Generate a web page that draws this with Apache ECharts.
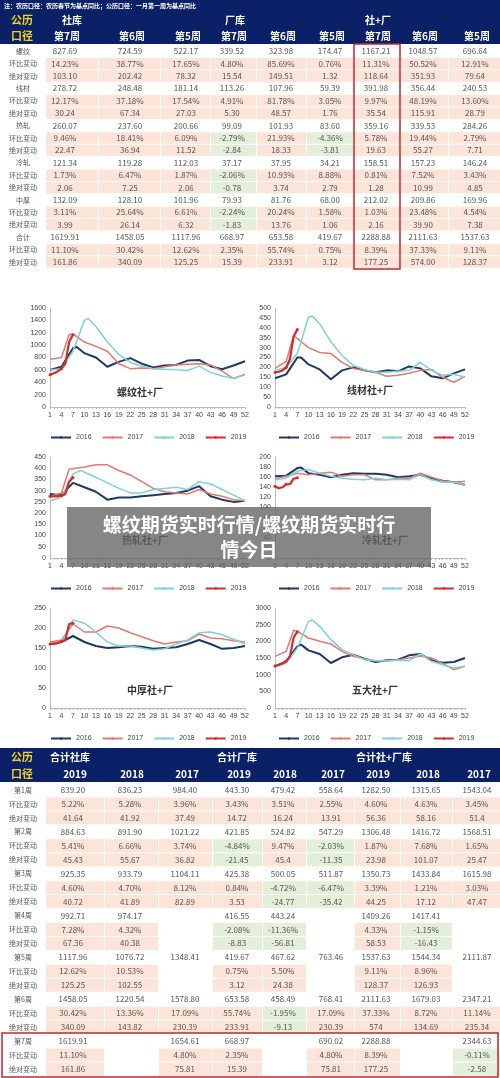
<!DOCTYPE html>
<html><head><meta charset="utf-8">
<script src="https://cdn.jsdelivr.net/npm/echarts@6/dist/echarts.min.js"></script>
<style>html,body{margin:0;padding:0;background:#fff}#c{width:500px;height:1078px}</style>
</head><body><div id="c"></div>
<script>
// ---------- top table data ----------
const topNote = '注：农历口径：农历春节为基点同比；公历口径：一月第一周为基点同比';
const topGroups = ['社库', '厂库', '社+厂'];
const topWeeks = ['第7周','第6周','第5周','第7周','第6周','第5周','第7周','第6周','第5周'];
const topLabels = ['螺纹','环比变动','绝对变动','线材','环比变动','绝对变动','热轧','环比变动','绝对变动','冷轧','环比变动','绝对变动','中厚','环比变动','绝对变动','合计','环比变动','绝对变动'];
const topRows = [
 ['827.69','724.59','522.17','339.52','323.98','174.47','1167.21','1048.57','696.64'],
 ['14.23%','38.77%','17.65%','4.80%','85.69%','0.76%','11.31%','50.52%','12.91%'],
 ['103.10','202.42','78.32','15.54','149.51','1.32','118.64','351.93','79.64'],
 ['278.72','248.48','181.14','113.26','107.96','59.39','391.98','356.44','240.53'],
 ['12.17%','37.18%','17.54%','4.91%','81.78%','3.05%','9.97%','48.19%','13.60%'],
 ['30.24','67.34','27.03','5.30','48.57','1.76','35.54','115.91','28.79'],
 ['260.07','237.60','200.66','99.09','101.93','83.60','359.16','339.53','284.26'],
 ['9.46%','18.41%','6.09%','-2.79%','21.93%','-4.36%','5.78%','19.44%','2.79%'],
 ['22.47','36.94','11.52','-2.84','18.33','-3.81','19.63','55.27','7.71'],
 ['121.34','119.28','112.03','37.17','37.95','34.21','158.51','157.23','146.24'],
 ['1.73%','6.47%','1.87%','-2.06%','10.93%','8.88%','0.81%','7.52%','3.43%'],
 ['2.06','7.25','2.06','-0.78','3.74','2.79','1.28','10.99','4.85'],
 ['132.09','128.10','101.96','79.93','81.76','68.00','212.02','209.86','169.96'],
 ['3.11%','25.64%','6.61%','-2.24%','20.24%','1.58%','1.03%','23.48%','4.54%'],
 ['3.99','26.14','6.32','-1.83','13.76','1.06','2.16','39.90','7.38'],
 ['1619.91','1458.05','1117.96','668.97','653.58','419.67','2288.88','2111.63','1537.63'],
 ['11.10%','30.42%','12.62%','2.35%','55.74%','0.75%','8.39%','37.33%','9.11%'],
 ['161.86','340.09','125.25','15.39','233.91','3.12','177.25','574.00','128.37']
];
// ---------- bottom table data ----------
const botGroups = ['合计社库','合计厂库','合计社+厂库'];
const botYears = ['2019','2018','2017','2019','2018','2017','2019','2018','2017'];
const botLabels = ['第1周','环比变动','绝对变动','第2周','环比变动','绝对变动','第3周','环比变动','绝对变动','第4周','环比变动','绝对变动','第5周','环比变动','绝对变动','第6周','环比变动','绝对变动','第7周','环比变动','绝对变动'];
const botRows = [
 ['839.20','836.23','984.40','443.30','479.42','558.64','1282.50','1315.65','1543.04'],
 ['5.22%','5.28%','3.96%','3.43%','3.51%','2.55%','4.60%','4.63%','3.45%'],
 ['41.64','41.92','37.49','14.72','16.24','13.91','56.36','58.16','51.4'],
 ['884.63','891.90','1021.22','421.85','524.82','547.29','1306.48','1416.72','1568.51'],
 ['5.41%','6.66%','3.74%','-4.84%','9.47%','-2.03%','1.87%','7.68%','1.65%'],
 ['45.43','55.67','36.82','-21.45','45.4','-11.35','23.98','101.07','25.47'],
 ['925.35','933.79','1104.11','425.38','500.05','511.87','1350.73','1433.84','1615.98'],
 ['4.60%','4.70%','8.12%','0.84%','-4.72%','-6.47%','3.39%','1.21%','3.03%'],
 ['40.72','41.89','82.89','3.53','-24.77','-35.42','44.25','17.12','47.47'],
 ['992.71','974.17','','416.55','443.24','','1409.26','1417.41',''],
 ['7.28%','4.32%','','-2.08%','-11.36%','','4.33%','-1.15%',''],
 ['67.36','40.38','','-8.83','-56.81','','58.53','-16.43',''],
 ['1117.96','1076.72','1348.41','419.67','467.62','763.46','1537.63','1544.34','2111.87'],
 ['12.62%','10.53%','','0.75%','5.50%','','9.11%','8.96%',''],
 ['125.25','102.55','','3.12','24.38','','128.37','126.93',''],
 ['1458.05','1220.54','1578.80','653.58','458.49','768.41','2111.63','1679.03','2347.21'],
 ['30.42%','13.36%','17.09%','55.74%','-1.95%','17.09%','37.33%','8.72%','11.14%'],
 ['340.09','143.82','230.39','233.91','-9.13','230.39','574','134.69','235.34'],
 ['1619.91','','1654.61','668.97','','690.02','2288.88','','2344.63'],
 ['11.10%','','4.80%','2.35%','','4.80%','8.39%','','-0.11%'],
 ['161.86','','75.81','15.39','','75.81','177.25','','-2.58']
];
// ---------- chart data: [week, value] ----------
const weeks = Array.from({length:52},(_,i)=>String(i+1));
const chartTitles = ['螺纹社+厂','线材社+厂','热轧社+厂','冷轧社+厂','中厚社+厂','五大社+厂'];
const chartMax = [1600,500,450,200,250,3000];
const chartStep = [200,50,50,20,50,500];
const s2016 = [
 [[1,600],[4,650],[7,950],[8,970],[10,870],[13,800],[16,650],[19,730],[22,790],[25,700],[28,640],[31,670],[34,680],[37,750],[40,760],[43,660],[46,610],[49,670],[52,740]],
 [[1,145],[4,165],[7,250],[8,250],[10,215],[13,190],[16,140],[19,185],[22,200],[25,185],[28,175],[31,185],[34,180],[37,205],[40,195],[43,155],[46,145],[49,170],[52,190]],
 [[1,285],[4,280],[7,335],[10,315],[13,295],[16,260],[19,270],[22,270],[25,275],[28,280],[31,285],[34,290],[37,300],[40,320],[43,275],[46,260],[49,250],[52,255]],
 [[1,162],[4,163],[7,178],[8,179],[10,168],[13,165],[16,160],[19,165],[22,168],[25,167],[28,167],[31,165],[34,160],[37,162],[40,165],[43,158],[46,153],[49,150],[52,145]],
 [[1,160],[4,165],[7,180],[10,165],[13,155],[16,150],[19,152],[22,155],[25,153],[28,148],[31,150],[34,152],[37,160],[40,170],[43,160],[46,148],[49,150],[52,155]],
 [[1,1250],[4,1400],[7,1850],[8,1900],[10,1730],[13,1620],[16,1350],[19,1520],[22,1600],[25,1480],[28,1380],[31,1430],[34,1450],[37,1580],[40,1620],[43,1430],[46,1360],[49,1380],[52,1500]]
];
const s2017 = [
 [[1,770],[4,800],[6,1170],[7,1180],[10,1050],[13,980],[16,900],[19,700],[22,620],[25,630],[28,620],[31,650],[34,680],[37,690],[40,700],[43,680],[46,580],[49,460],[52,530]],
 [[1,195],[4,230],[6,360],[7,345],[10,300],[13,275],[16,270],[19,225],[22,195],[25,185],[28,175],[31,155],[34,160],[37,170],[40,185],[43,190],[46,150],[49,125],[52,155]],
 [[1,275],[4,290],[6,395],[10,405],[13,415],[16,415],[19,390],[22,370],[25,340],[28,310],[31,295],[34,290],[37,285],[40,305],[43,285],[46,275],[49,260],[52,255]],
 [[1,157],[4,162],[7,168],[10,165],[13,168],[16,170],[19,162],[22,165],[25,165],[28,155],[31,155],[34,158],[37,158],[40,168],[43,160],[46,153],[49,150],[52,152]],
 [[1,165],[4,170],[7,210],[10,190],[13,190],[16,205],[19,200],[22,188],[25,178],[28,168],[31,160],[34,165],[37,168],[40,185],[43,175],[46,173],[49,168],[52,165]],
 [[1,1550],[4,1700],[6,2330],[7,2300],[10,2100],[13,2000],[16,1920],[19,1700],[22,1550],[25,1480],[28,1420],[31,1420],[34,1450],[37,1500],[40,1560],[43,1500],[46,1340],[49,1150],[52,1250]]
];
const s2018 = [
 [[1,600],[4,620],[7,900],[10,1400],[11,1430],[13,1300],[16,1050],[19,850],[22,720],[25,660],[28,620],[31,610],[34,600],[37,590],[40,660],[43,560],[46,500],[49,460],[52,520]],
 [[1,185],[4,200],[7,270],[10,455],[11,460],[13,420],[16,330],[19,260],[22,210],[25,190],[28,175],[31,175],[34,180],[37,185],[40,225],[43,185],[46,160],[49,165],[52,150]],
 [[1,255],[4,270],[7,375],[9,390],[13,360],[16,335],[19,310],[22,290],[25,290],[28,305],[31,310],[34,315],[37,305],[40,340],[43,330],[46,305],[49,280],[52,255]],
 [[1,155],[4,158],[7,172],[10,175],[13,168],[16,162],[19,158],[22,156],[25,155],[28,158],[31,155],[34,156],[37,155],[40,165],[43,155],[46,150],[49,150],[52,145]],
 [[1,160],[4,165],[7,220],[10,212],[13,190],[16,165],[19,155],[22,155],[25,150],[28,145],[31,148],[34,160],[37,170],[40,188],[43,190],[46,183],[49,172],[52,160]],
 [[1,1250],[4,1350],[7,1800],[10,2600],[11,2640],[13,2450],[16,2050],[19,1750],[22,1600],[25,1450],[28,1420],[31,1420],[34,1430],[37,1420],[40,1620],[43,1400],[46,1300],[49,1200],[52,1250]]
];
const s2019 = [
 [520,545,575,620,697,1049,1167],
 [175,178,185,200,241,356,392],
 [275,275,275,278,284,340,359],
 [142,138,140,146,146,157,159],
 [160,160,162,166,170,210,212],
 [1260,1290,1330,1410,1538,2112,2289]
];
const overlayText = ['螺纹期货实时行情/螺纹期货实时行','情今日'];

// ---------- layout ----------
const NAVY = '#0b2167', SALMON = '#fde4d8', GREEN = '#e3efd8', YEL = '#f2d21a';
const F = '"Noto Sans CJK SC", sans-serif';
const g = [];
function txt(x,y,s,o,z){g.push({type:'text',x,y,z:z||1,style:Object.assign({text:s,fill:'#444',font:'8px '+F,align:'center',verticalAlign:'middle'},o||{})});}
function rect(x,y,w,h,fill,o,z){g.push({type:'rect',z:z||1,shape:{x,y,width:w,height:h},style:Object.assign({fill},o||{})});}

// top table
const tCols = [65,130,186,232,281,330,376,423,475];
const tEdges = [45,98,160,210,256,306,354,400,448,500];
rect(0,0,500,44,NAVY);
txt(4,6,topNote,{fill:'#fff',font:'bold 6px '+F,align:'left'});
txt(22,20,'公历',{fill:YEL,font:'bold 11px '+F});
txt(22,36,'口径',{fill:YEL,font:'bold 11px '+F});
[[62,0],[225,1],[365,2]].forEach(([x,i])=>txt(x,20,topGroups[i],{fill:'#fff',font:'bold 10px '+F,align:'left'}));
topWeeks.forEach((w,i)=>txt(tCols[i]+2,36,w,{fill:'#fff',font:'bold 10px '+F}));
const tTop=45, tH=12.4;
topLabels.forEach((l,r)=>{
  const y=tTop+r*tH, sub=r%3!==0;
  txt(23,y+tH/2,l,{fill:'#555',font:'7px '+F});
  topRows[r].forEach((v,c)=>{
    if(sub) rect(tEdges[c]+1,y+0.5,tEdges[c+1]-tEdges[c]-1,tH-1,v.startsWith('-')?GREEN:SALMON);
    txt(tCols[c],y+tH/2,v,{fill:'#555'});
  });
});
rect(354,44,46,225,'none',{stroke:'#c0282d',lineWidth:1.5},3);

// bottom table
const bCols = [73,130,185,237,283,331,376,426,477];
const bEdges = [45,104,158,212,262,306,354,400,452,500];
const bT=748;
rect(0,bT,500,34,NAVY);
txt(22,bT+9,'公历',{fill:YEL,font:'bold 11px '+F});
txt(22,bT+26,'口径',{fill:YEL,font:'bold 11px '+F});
[[50,0],[217,1],[356,2]].forEach(([x,i])=>txt(x,bT+9,botGroups[i],{fill:'#fff',font:'bold 10px '+F,align:'left'}));
botYears.forEach((w,i)=>txt(bCols[i]+2,bT+26,w,{fill:'#fff',font:'bold 10px '+F}));
const bTop=bT+35, bH=13.95;
botLabels.forEach((l,r)=>{
  const y=bTop+r*bH, sub=r%3!==0;
  txt(23,y+bH/2,l,{fill:'#555',font:'7px '+F});
  botRows[r].forEach((v,c)=>{
    if(sub && v!=='') rect(bEdges[c]+1,y+0.5,bEdges[c+1]-bEdges[c]-1,bH-1,v.startsWith('-')?GREEN:SALMON);
    if(v!=='') txt(bCols[c],y+bH/2,v,{fill:'#555'});
  });
});
rect(2,bTop+18*bH-1,496,3*bH+2,'none',{stroke:'#c0282d',lineWidth:1.5},3);

// overlay
rect(67,507,364,60,'rgba(100,100,100,0.78)',null,100);
txt(249,525,overlayText[0],{fill:'#fff',font:'bold 19px '+F},101);
txt(249,550,overlayText[1],{fill:'#fff',font:'bold 19px '+F},101);

// charts
const pos = [[50,308,245,407],[275,308,465,407],[50,457,245,558],[275,457,465,558],[50,608,245,708],[275,608,465,708]];
const titlePos = [[140,392],[370,390],[145,540],[385,540],[150,690],[375,690]];
const grids=[],xAxes=[],yAxes=[],series=[],legends=[];
const cols = {'2016':'#1f3864','2017':'#e07a70','2018':'#7fd0d8','2019':'#d62a2a'};
pos.forEach((p,i)=>{
  grids.push({left:p[0],top:p[1],width:p[2]-p[0],height:p[3]-p[1]});
  xAxes.push({type:'category',gridIndex:i,data:weeks,boundaryGap:false,
    axisLine:{lineStyle:{color:'#bbb'}},axisTick:{show:true,interval:0,length:2,lineStyle:{color:'#bbb'}},
    axisLabel:{interval:2,fontSize:7,color:'#444',margin:5,fontFamily:'Arial'}});
  yAxes.push({type:'value',gridIndex:i,min:0,max:chartMax[i],interval:chartStep[i],
    splitLine:{show:false},axisLine:{show:true,lineStyle:{color:'#bbb'}},
    axisLabel:{fontSize:7,color:'#444',margin:4,fontFamily:'Arial',formatter:v=>String(v)}});
  const mk=(name,data,extra)=>Object.assign({name,type:'line',xAxisIndex:i,yAxisIndex:i,data,
    showSymbol:false,symbol:'none',lineStyle:{width:1.5,color:cols[name]},itemStyle:{color:cols[name]}},extra||{});
  series.push(mk('2016',s2016[i].map(d=>[d[0]-1,d[1]]),{lineStyle:{width:2,color:cols['2016']}}));
  series.push(mk('2017',s2017[i].map(d=>[d[0]-1,d[1]])));
  series.push(mk('2018',s2018[i].map(d=>[d[0]-1,d[1]])));
  series.push(mk('2019',s2019[i],{symbol:'circle',showSymbol:true,symbolSize:3,lineStyle:{width:2.2,color:cols['2019']}}));
  legends.push({data:['2016','2017','2018','2019'],left:(i%2?p[0]-2:p[0]-5),top:p[3]+22,itemWidth:20,itemHeight:3,itemGap:10,
    textStyle:{fontSize:7,color:'#444',fontFamily:'Arial'}});
  txt(titlePos[i][0],titlePos[i][1],chartTitles[i],{fill:'#333',font:'bold 10px '+F},5);
});

const chart = echarts.init(document.getElementById('c'));
chart.setOption({animation:false,backgroundColor:'#fff',grid:grids,xAxis:xAxes,yAxis:yAxes,series,legend:legends,graphic:{elements:g}});
</script></body></html>
